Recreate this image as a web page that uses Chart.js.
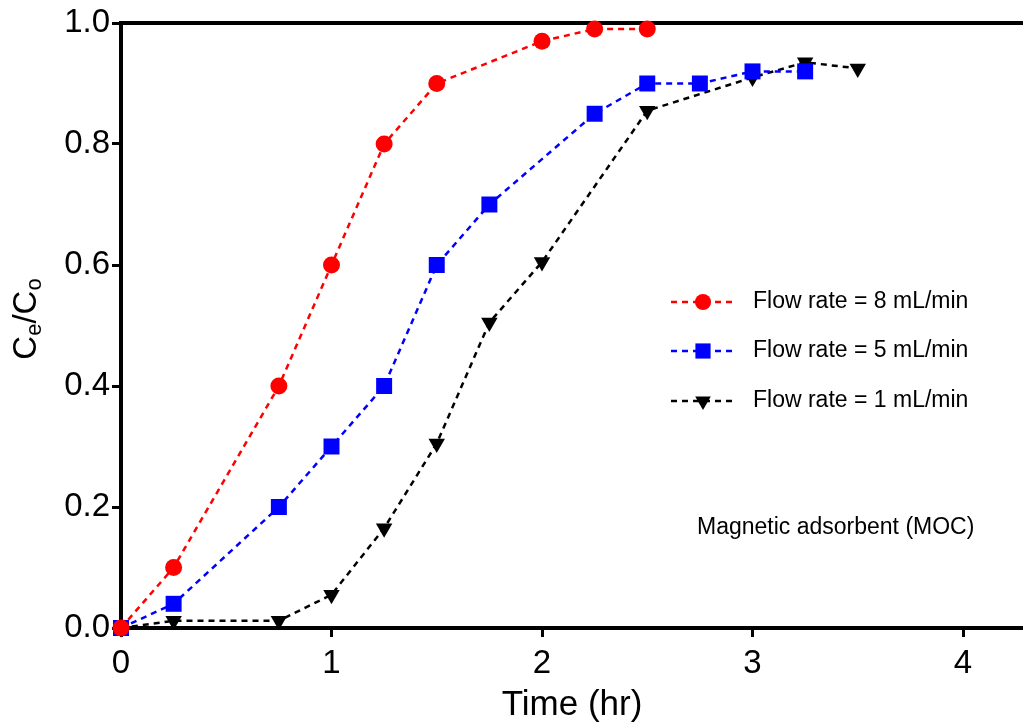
<!DOCTYPE html>
<html><head><meta charset="utf-8">
<script src="https://cdn.jsdelivr.net/npm/chart.js@4.4.1/dist/chart.umd.min.js"></script>
<style>html,body{margin:0;padding:0;background:#fff;overflow:hidden}#wrap{width:1023px;height:726px}</style>
</head><body><div id="wrap"><canvas id="c" width="1023" height="726"></canvas></div>
<script>
const xTicks = [0, 1, 2, 3, 4];
const yTicks = [0.0, 0.2, 0.4, 0.6, 0.8, 1.0];
const seriesNames = ['Flow rate = 8 mL/min', 'Flow rate = 5 mL/min', 'Flow rate = 1 mL/min'];
const timeRed = [0, 0.25, 0.75, 1, 1.25, 1.5, 2, 2.25, 2.5];
const valRed = [0, 0.10, 0.40, 0.60, 0.80, 0.90, 0.97, 0.99, 0.99];
const timeBlue = [0, 0.25, 0.75, 1, 1.25, 1.5, 1.75, 2.25, 2.5, 2.75, 3, 3.25];
const valBlue = [0, 0.04, 0.20, 0.30, 0.40, 0.60, 0.70, 0.85, 0.90, 0.90, 0.92, 0.92];
const timeBlack = [0, 0.25, 0.75, 1, 1.25, 1.5, 1.75, 2, 2.5, 3, 3.25, 3.5];
const valBlack = [0, 0.012, 0.012, 0.055, 0.165, 0.305, 0.505, 0.605, 0.855, 0.91, 0.935, 0.925];
const noteText = 'Magnetic adsorbent (MOC)';

const FONT = '"Liberation Sans", Arial, sans-serif';
const pts = (xs, ys) => xs.map((x, i) => ({x: x, y: ys[i]}));

const styles = [
  {color: '#ff0000', pointStyle: 'circle', radius: 8.5, rotation: 0},
  {color: '#0000ff', pointStyle: 'rect', radius: 11.3, rotation: 0},
  {color: '#000000', pointStyle: 'triangle', radius: 9.5, rotation: 180}
];
const dataArr = [pts(timeRed, valRed), pts(timeBlue, valBlue), pts(timeBlack, valBlack)];

const datasets = dataArr.map((d, i) => ({
  label: seriesNames[i],
  data: d,
  borderColor: styles[i].color,
  backgroundColor: styles[i].color,
  borderWidth: 2.5,
  borderDash: [6, 5],
  pointStyle: styles[i].pointStyle,
  pointRadius: styles[i].radius,
  pointHoverRadius: styles[i].radius,
  pointRotation: styles[i].rotation,
  pointBorderWidth: 0,
  tension: 0,
  clip: false
}));

const extras = {
  id: 'extras',
  afterDraw(chart) {
    const ctx = chart.ctx;
    ctx.save();
    ctx.translate(27, 319);
    ctx.rotate(-Math.PI / 2);
    ctx.fillStyle = '#000';
    ctx.textBaseline = 'middle';
    const big = '33px ' + FONT, small = '22px ' + FONT;
    const parts = [['C', big, 0], ['e', small, 8], ['/C', big, 0], ['o', small, 8]];
    let total = 0;
    parts.forEach(p => { ctx.font = p[1]; total += ctx.measureText(p[0]).width; });
    let x = -total / 2;
    parts.forEach(p => { ctx.font = p[1]; ctx.textAlign = 'left'; ctx.fillText(p[0], x, p[2]); x += ctx.measureText(p[0]).width; });
    ctx.restore();

    ctx.save();
    const rows = [302, 351, 401];
    chart.data.datasets.forEach((ds, i) => {
      const y = rows[i];
      ctx.strokeStyle = ds.borderColor;
      ctx.lineWidth = 2.5;
      ctx.setLineDash([6, 5]);
      ctx.beginPath(); ctx.moveTo(671, y); ctx.lineTo(735, y); ctx.stroke();
      ctx.setLineDash([]);
      ctx.fillStyle = ds.backgroundColor;
      Chart.helpers.drawPoint(ctx, {pointStyle: ds.pointStyle, rotation: ds.pointRotation, radius: ds.pointRadius * 0.95, borderWidth: 0}, 703, y);
      ctx.fillStyle = '#000';
      ctx.font = '23px ' + FONT;
      ctx.textAlign = 'left';
      ctx.textBaseline = 'middle';
      ctx.fillText(ds.label, 753, y);
    });
    ctx.font = '23px ' + FONT;
    ctx.fillText(noteText, 697, 528);
    ctx.restore();
  }
};

new Chart(document.getElementById('c'), {
  type: 'line',
  data: {datasets: datasets},
  options: {
    responsive: false,
    animation: false,
    events: [],
    layout: {padding: 0, autoPadding: false},
    plugins: {legend: {display: false}, tooltip: {enabled: false}},
    scales: {
      x: {
        type: 'linear', position: 'bottom',
        min: 0, max: 4.285,
        afterFit(s) { s.height = 98; s.paddingRight = 0; s.paddingLeft = 0; },
        afterBuildTicks(s) { s.ticks = xTicks.map(v => ({value: v})); },
        ticks: {color: '#000', font: {family: FONT, size: 33}, padding: 7, includeBounds: false, maxRotation: 0},
        grid: {display: true, drawOnChartArea: false, drawTicks: true, tickLength: 9, tickWidth: 3, color: '#000'},
        border: {display: true, color: '#000', width: 4},
        title: {display: true, text: 'Time (hr)', color: '#000', font: {family: FONT, size: 35}, padding: {top: 5, bottom: 0}}
      },
      x2: {
        type: 'linear', position: 'top', min: 0, max: 4.285,
        afterFit(s) { s.height = 23; s.paddingRight = 0; s.paddingLeft = 0; },
        afterBuildTicks(s) { s.ticks = []; },
        ticks: {display: false},
        grid: {display: false, drawTicks: false},
        border: {display: true, color: '#000', width: 4}
      },
      y: {
        min: 0, max: 1,
        afterFit(s) { s.width = 121; s.paddingTop = 0; s.paddingBottom = 0; },
        afterBuildTicks(s) { s.ticks = yTicks.map(v => ({value: v})); },
        ticks: {color: '#000', font: {family: FONT, size: 33}, padding: 2, callback: v => v.toFixed(1)},
        grid: {display: true, drawOnChartArea: false, drawTicks: true, tickLength: 9, tickWidth: 3, color: '#000'},
        border: {display: true, color: '#000', width: 4}
      }
    }
  },
  plugins: [extras]
});
</script></body></html>
